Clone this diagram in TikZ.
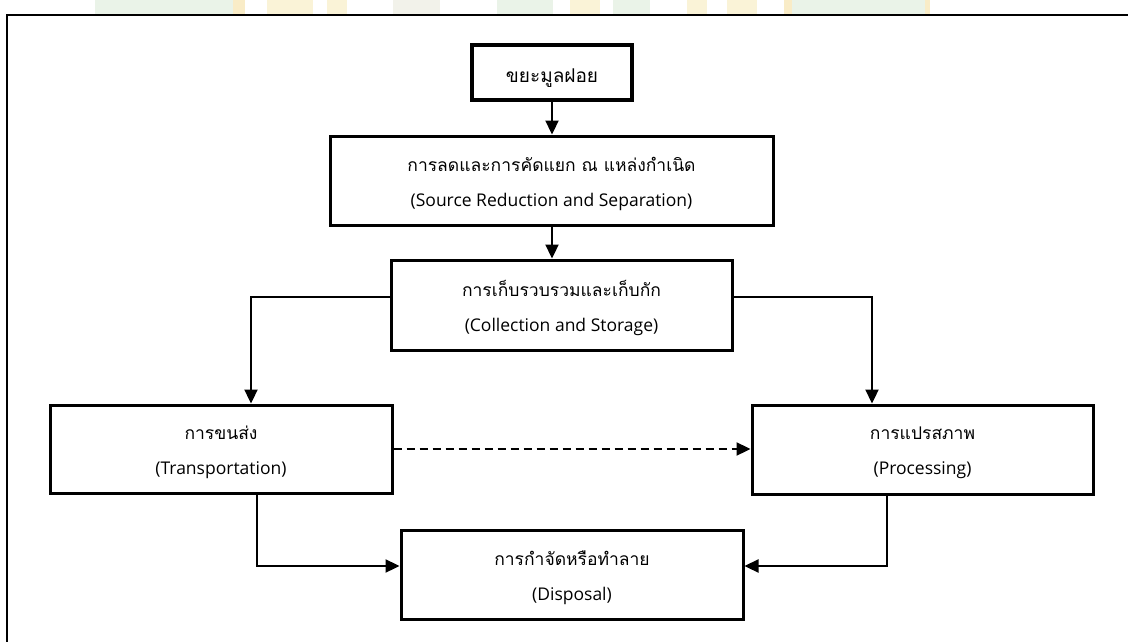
\documentclass[tikz,border=0pt]{standalone}
\usepackage{fontspec}
\setmainfont{Open Sans}
\newfontfamily\thaifont[Script=Thai]{Loma}
\usetikzlibrary{arrows.meta}
\newcommand\lowln[1]{\raisebox{-3.5pt}[\height][\depth]{#1}}
\tikzset{
  box/.style={draw=black, line width=3pt, fill=white, inner sep=0pt, align=center,
    font=\fontsize{17.5}{35}\selectfont},
  conn/.style={draw=black, line width=2.3pt, -{Triangle[length=14pt,width=13pt]}},
  dashconn/.style={conn, dash pattern=on 8pt off 5pt},
  wm/.style={fill opacity=0.38, draw=none}
}
\begin{document}
\begin{tikzpicture}[x=1pt,y=-1pt]
\useasboundingbox (0,0) rectangle (1128,642);
\fill[white] (0,0) rectangle (1128,642);
% faint watermark above the frame
\fill[wm, fill={rgb,255:red,200;green,226;blue,196}] (95,0) rectangle (233,14);
\fill[wm, fill={rgb,255:red,240;green,206;blue,110}] (233,0) rectangle (245,14);
\fill[wm, fill={rgb,255:red,244;green,226;blue,150}] (267,0) rectangle (313,14);
\fill[wm, fill={rgb,255:red,244;green,226;blue,150}] (327,0) rectangle (347,14);
\fill[wm, fill={rgb,255:red,222;green,222;blue,200}] (393,0) rectangle (440,14);
\fill[wm, fill={rgb,255:red,200;green,226;blue,196}] (497,0) rectangle (553,14);
\fill[wm, fill={rgb,255:red,244;green,226;blue,150}] (570,0) rectangle (600,14);
\fill[wm, fill={rgb,255:red,200;green,226;blue,196}] (613,0) rectangle (650,14);
\fill[wm, fill={rgb,255:red,244;green,226;blue,150}] (687,0) rectangle (707,14);
\fill[wm, fill={rgb,255:red,244;green,226;blue,150}] (727,0) rectangle (757,14);
\fill[wm, fill={rgb,255:red,240;green,206;blue,110}] (784,0) rectangle (792,14);
\fill[wm, fill={rgb,255:red,200;green,226;blue,196}] (792,0) rectangle (925,14);
\fill[wm, fill={rgb,255:red,240;green,206;blue,110}] (925,0) rectangle (930,14);
% frame
\draw[line width=2pt] (7,642) -- (7,15) -- (1128,15);

% boxes
\node[box, line width=3.4pt, minimum width=160pt, minimum height=55pt, font=\fontsize{19}{35}\selectfont] (b1) at (552,72.5)
  {\raisebox{-6pt}[\height][\depth]{\thaifont ขยะมูลฝอย}};
\node[box, minimum width=443pt, minimum height=89pt] (b2) at (551.5,180.5)
  {\lowln{\thaifont การลดและการคัดแยก ณ แหล่งกำเนิด}\\\lowln{(Source Reduction and Separation)}};
\node[box, minimum width=341pt, minimum height=90pt] (b3) at (561.5,305)
  {\lowln{\thaifont การเก็บรวบรวมและเก็บกัก}\\\lowln{(Collection and Storage)}};
\node[box, minimum width=342pt, minimum height=88pt] (b4) at (221,449)
  {\lowln{\thaifont การขนส่ง}\\\lowln{(Transportation)}};
\node[box, minimum width=341pt, minimum height=89pt] (b5) at (922.5,449.5)
  {\lowln{\thaifont การแปรสภาพ}\\\lowln{(Processing)}};
\node[box, minimum width=342pt, minimum height=89pt] (b6) at (572,574.5)
  {\lowln{\thaifont การกำจัดหรือทำลาย}\\\lowln{(Disposal)}};

% connectors
\coordinate (k0) at (552,0);
\draw[conn] (k0 |- b1.south) -- (k0 |- b2.north);
\draw[conn] (k0 |- b2.south) -- (k0 |- b3.north);
\coordinate (k1) at (251,297);
\draw[conn] (k1 -| b3.west) -- (k1) -- (k1 |- b4.north);
\coordinate (k2) at (872,297);
\draw[conn] (k2 -| b3.east) -- (k2) -- (k2 |- b5.north);
\draw[dashconn] (b4.east) -- (b4.east -| b5.west);
\coordinate (k3) at (257,566);
\draw[conn] (k3 |- b4.south) -- (k3) -- (k3 -| b6.west);
\coordinate (k4) at (887,566);
\draw[conn] (k4 |- b5.south) -- (k4) -- (k4 -| b6.east);
\end{tikzpicture}
\end{document}
